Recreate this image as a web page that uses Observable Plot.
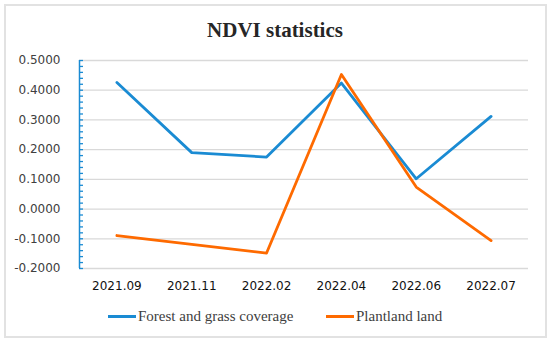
<!DOCTYPE html>
<html>
<head>
<meta charset="utf-8">
<script src="https://cdn.jsdelivr.net/npm/d3@7"></script>
<script src="https://cdn.jsdelivr.net/npm/@observablehq/plot@0.6"></script>
<style>
  body { margin: 0; background: #fff; }
  #wrap { position: relative; width: 550px; height: 341px; overflow: hidden; background: #fff; }
  #border { position: absolute; left: 4px; top: 4px; width: 539px; height: 330px; border: 2px solid #e2e2e2; }
  #title { position: absolute; left: 0; width: 550px; top: 18px; text-align: center;
           font-family: "Liberation Serif", "Times New Roman", serif; font-weight: bold; font-size: 21px; color: #262626; }
  #chart { position: absolute; left: 0; top: 0; }
  .leg { position: absolute; top: 308px; font-family: "Liberation Serif", "Times New Roman", serif; font-size: 15px; color: #404040; white-space: nowrap; }
  .sw { display: inline-block; width: 28px; height: 3px; vertical-align: middle; margin-right: 2px; position: relative; top: -1px; }
</style>
</head>
<body>
<div id="wrap">
  <div id="border"></div>
  <div id="chart"></div>
  <div id="title">NDVI statistics</div>
  <div class="leg" id="leg1" style="left:108px"><span class="sw" style="background:#1a8bd3"></span>Forest and grass coverage</div>
  <div class="leg" id="leg2" style="left:326px"><span class="sw" style="background:#fe6a00"></span>Plantland land</div>
</div>
<script>
const categories = ["2021.09", "2021.11", "2022.02", "2022.04", "2022.06", "2022.07"];
const forestValues = [0.426, 0.190, 0.175, 0.424, 0.102, 0.312];
const plantlandValues = [-0.089, -0.119, -0.148, 0.453, 0.074, -0.106];
const yTicks = [-0.2, -0.1, 0, 0.1, 0.2, 0.3, 0.4, 0.5];
const seriesNames = ["Forest and grass coverage", "Plantland land"];

const blue = "#1a8bd3";
const orange = "#fe6a00";

const forest = categories.map((c, i) => ({i, v: forestValues[i]}));
const plant = categories.map((c, i) => ({i, v: plantlandValues[i]}));
const minor = d3.range(-10, 26).map(k => k * 0.02);

const plot = Plot.plot({
  width: 550,
  height: 341,
  marginLeft: 79,
  marginRight: 22,
  marginTop: 60,
  marginBottom: 73,
  style: {background: "transparent", overflow: "visible"},
  x: {domain: [-0.5, 5.5], axis: null, label: null},
  y: {domain: [-0.2, 0.5], axis: null, label: null},
  marks: [
    Plot.ruleY(yTicks, {stroke: "#d9d9d9", strokeWidth: 1.3}),
    Plot.axisX(d3.range(categories.length), {
      anchor: "bottom", tickSize: 0, tickPadding: 13, label: null,
      tickFormat: i => categories[i],
      fontSize: 12, fontFamily: "DejaVu Sans", fill: "#111"
    }),
    Plot.axisY(yTicks, {
      anchor: "left", tickSize: 0, tickPadding: 19, label: null,
      tickFormat: d => d3.format(".4f")(d).replace("−", "-"),
      fontSize: 12, fontFamily: "DejaVu Sans", fill: "#404040"
    }),
    Plot.axisY(minor, {
      anchor: "left", tickSize: 4, dx: 4, tickFormat: () => "", label: null,
      stroke: blue, strokeWidth: 1.3
    }),
    Plot.ruleX([-0.5], {stroke: blue, strokeWidth: 1.5}),
    Plot.line(forest, {x: "i", y: "v", stroke: blue, strokeWidth: 2.8}),
    Plot.line(plant, {x: "i", y: "v", stroke: orange, strokeWidth: 2.8})
  ]
});
document.getElementById("chart").appendChild(plot);
</script>
</body>
</html>
